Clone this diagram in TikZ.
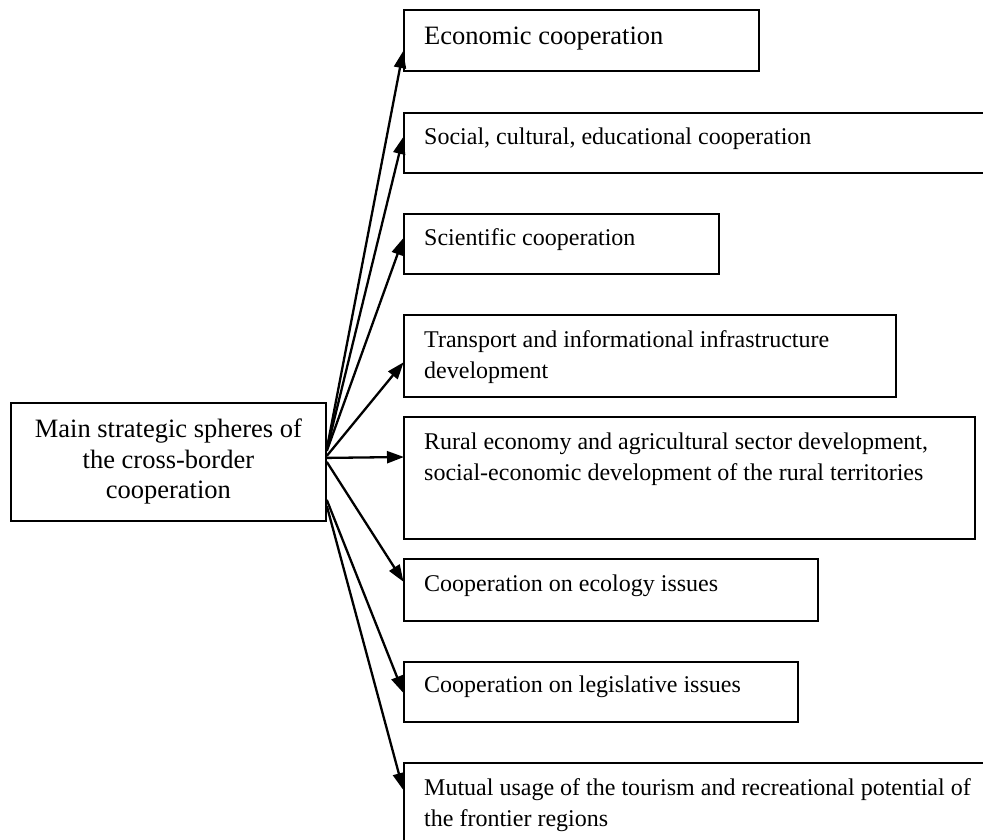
\documentclass[tikz,border=0pt]{standalone}
\usepackage{fontspec}
\setmainfont{Liberation Serif}
\usetikzlibrary{arrows.meta}
\tikzset{
  box/.style={draw=black, line width=1.8pt, inner sep=0pt, anchor=north west},
  txt/.style={inner sep=0pt, anchor=base west, font=\fontsize{24}{31}\selectfont, align=left},
  conn/.style={line width=2.3pt, -{Triangle[length=17pt,width=12pt]}, shorten >=-1pt}
}
\begin{document}
\begin{tikzpicture}[x=1pt,y=-1pt]
\clip (0,0) rectangle (983,839);
\fill[white] (0,0) rectangle (983,839);
% main box
\node[box, minimum width=315pt, minimum height=118pt, align=center,
      font=\fontsize{26.5}{30.5}\selectfont] (m) at (10,402)
  {Main strategic spheres of\\the cross-border\\cooperation};
% target boxes
\node[box, minimum width=355pt, minimum height=61pt] (b1) at (403,9) {};
\node[box, minimum width=600pt, minimum height=60pt] (b2) at (403,112) {};
\node[box, minimum width=315pt, minimum height=60pt] (b3) at (403,213) {};
\node[box, minimum width=492pt, minimum height=82pt] (b4) at (403,314) {};
\node[box, minimum width=571pt, minimum height=122pt] (b5) at (403,416) {};
\node[box, minimum width=414pt, minimum height=62pt] (b6) at (403,558) {};
\node[box, minimum width=394pt, minimum height=60pt] (b7) at (403,661) {};
\node[box, minimum width=600pt, minimum height=100pt] (b8) at (403,762) {};
% texts (anchor = baseline of the last line)
\node[txt, font=\fontsize{26.5}{31}\selectfont] (t1) at (424,44) {Economic cooperation};
\node[txt] (t2) at (424,144) {Social, cultural, educational cooperation};
\node[txt] (t3) at (424,245) {Scientific cooperation};
\node[txt] (t4) at (424,378) {Transport and informational infrastructure\\development};
\node[txt] (t5) at (424,480) {Rural economy and agricultural sector development,\\social-economic development of the rural territories};
\node[txt] (t6) at (424,591) {Cooperation on ecology issues};
\node[txt] (t7) at (424,692) {Cooperation on legislative issues};
\node[txt] (t8) at (424,826) {Mutual usage of the tourism and recreational potential of\\the frontier regions};
% connectors
\draw[conn] ([yshift=13pt]m.east) -- ([yshift=-43pt]b1.north west);
\draw[conn] ([yshift=12pt]m.east) -- ([yshift=-26pt]b2.north west);
\draw[conn] ([yshift=11pt]m.east) -- ([yshift=-26pt]b3.north west);
\draw[conn] ([yshift=6pt]m.east) -- ([yshift=-49pt]b4.north west);
\draw[conn] ([yshift=4pt]m.east) -- ([yshift=-41pt]b5.north west);
\draw[conn] ([yshift=0pt]m.east) -- ([yshift=-23pt]b6.north west);
\draw[conn] ([yshift=-38pt]m.east) -- ([yshift=-31pt]b7.north west);
\draw[conn] ([yshift=-44pt]m.east) -- ([yshift=-27pt]b8.north west);
\end{tikzpicture}
\end{document}
